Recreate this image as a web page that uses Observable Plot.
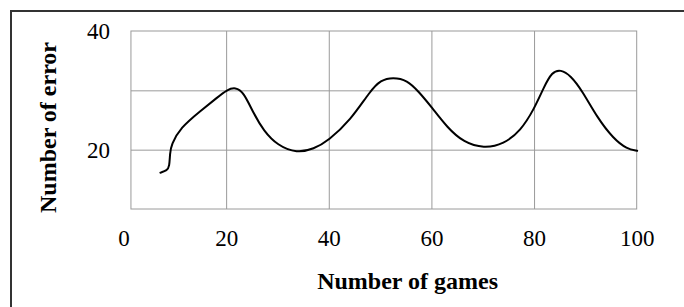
<!DOCTYPE html>
<html><head><meta charset="utf-8">
<script src="https://cdn.jsdelivr.net/npm/d3@7"></script>
<script src="https://cdn.jsdelivr.net/npm/@observablehq/plot@0.6"></script>
<style>
html,body{margin:0;padding:0;background:#fff;}
#wrap{position:relative;width:684px;height:307px;overflow:hidden;background:#fff;}
#border{position:absolute;left:10px;top:10px;width:700px;height:320px;border-top:2px solid #333;border-left:2px solid #333;pointer-events:none;}
#wrap svg{position:absolute;left:0;top:0;}
</style></head><body><div id="wrap"><div id="border"></div></div>
<script>
const games  = [7.1, 8.4, 8.85, 8.95, 9.2, 11.0, 14.9, 18.2, 20.1, 21.7, 23.3, 25.3, 27.2, 29.9, 33.7, 37.0, 39.8, 44.1, 48.0, 50.0, 52.4, 55.2, 57.4, 60.0, 63.0, 66.2, 70.1, 74.0, 77.3, 79.9, 81.8, 83.4, 85.1, 87.0, 89.3, 92.2, 95.4, 98.0, 100, 100];
const errors = [16.2, 16.6, 17.2, 19.4, 20.9, 23.8, 26.6, 28.9, 30.2, 30.6, 29.8, 26.1, 23.3, 20.8, 19.5, 20.2, 21.6, 25.0, 30.0, 31.8, 32.3, 31.8, 29.9, 27.2, 23.8, 21.3, 20.3, 21.0, 23.3, 26.9, 30.6, 33.2, 33.6, 32.6, 30.0, 25.5, 21.9, 20.2, 19.9, 19.9];
const xTicks = [0, 20, 40, 60, 80, 100];
const yTicks = [20, 40];
const xGrid = [20, 40, 60, 80];
const yGrid = [20, 30];
const frameBox = [{x1: 1.45, x2: 100, y1: 10, y2: 40}];
const xTitle = ["Number of games"];
const yTitle = ["Number of error"];

const data = games.map((g, i) => ({g, e: errors[i]}));
const font = "'Liberation Serif','Times New Roman',serif";
const chart = Plot.plot({
  width: 684, height: 307,
  marginLeft: 123.5, marginRight: 47.3, marginTop: 31, marginBottom: 98,
  x: {domain: [0, 100]},
  y: {domain: [10, 40]},
  style: {fontFamily: font, background: "transparent", color: "#000"},
  marks: [
    Plot.ruleX(xGrid, {y1: 10, y2: 40, stroke: "#9a9a9a", strokeWidth: 1}),
    Plot.ruleY(yGrid, {x1: frameBox[0].x1, x2: 100, stroke: "#9a9a9a", strokeWidth: 1}),
    Plot.rect(frameBox, {x1: "x1", x2: "x2", y1: "y1", y2: "y2", fill: "none", stroke: "#9a9a9a", strokeWidth: 1}),
    Plot.axisX(xTicks, {tickSize: 0, tickPadding: 20.5, fontSize: 23, label: null, fill: "#000"}),
    Plot.axisY(yTicks, {tickSize: 0, tickPadding: 14, fontSize: 23, label: null, fill: "#000"}),
    Plot.line(data, {x: "g", y: "e", curve: "basis", stroke: "#000", strokeWidth: 2}),
    Plot.text(xTitle, {frameAnchor: "bottom", dx: 27, dy: 79, fontSize: 24, fontWeight: "bold", fill: "#000"}),
    Plot.text(yTitle, {frameAnchor: "left", textAnchor: "middle", rotate: -90, dx: -76, dy: 7, fontSize: 24, fontWeight: "bold", fill: "#000"})
  ]
});
document.getElementById("wrap").appendChild(chart);
</script>
</body></html>
